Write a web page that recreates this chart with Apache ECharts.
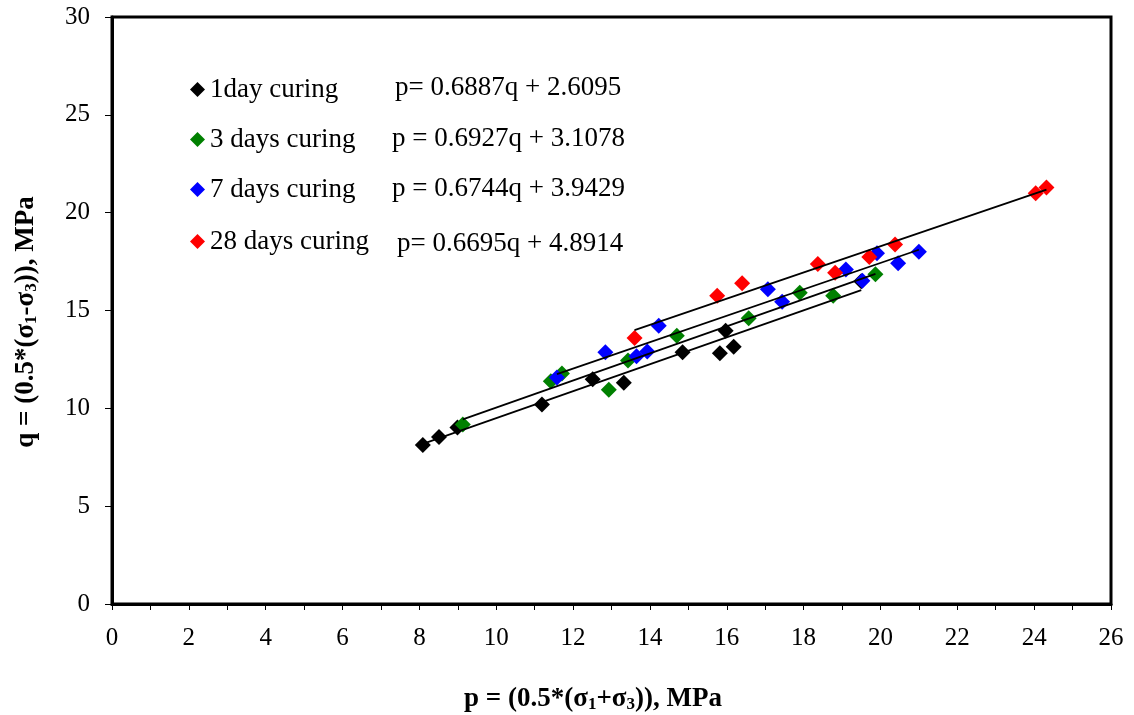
<!DOCTYPE html>
<html>
<head>
<meta charset="utf-8">
<script src="https://cdn.jsdelivr.net/npm/echarts@6/dist/echarts.min.js"></script>
<style>
  html, body { margin: 0; padding: 0; background: #ffffff; }
  #chart { width: 1134px; height: 715px; }
</style>
</head>
<body>
<div id="chart"></div>
<script>
// Curing series: mean stress p and deviator q (MPa)
const seriesNames = ['1day curing', '3 days curing', '7 days curing', '28 days curing'];
const seriesColors = ['#000000', '#008000', '#0000ff', '#ff0000'];

const p1day = [8.09, 8.51, 8.99, 11.19, 12.51, 13.32, 14.85, 15.82, 15.97, 16.18, 19.50];
const q1day = [8.12, 8.53, 9.02, 10.20, 11.49, 11.31, 12.86, 12.81, 13.96, 13.15, 16.50];

const p3days = [9.13, 11.42, 11.71, 12.93, 13.43, 14.70, 16.57, 17.90, 18.77, 19.87];
const q3days = [9.17, 11.38, 11.78, 10.95, 12.44, 13.71, 14.60, 15.91, 15.76, 16.85];

const p7days = [11.58, 12.84, 13.65, 13.93, 14.23, 17.07, 17.44, 19.10, 19.53, 19.91, 20.46, 21.00];
const q7days = [11.58, 12.86, 12.66, 12.91, 14.22, 16.08, 15.45, 17.10, 16.52, 17.93, 17.41, 18.00];

const p28days = [13.60, 15.75, 16.40, 18.37, 18.82, 19.71, 20.38, 24.04, 24.32];
const q28days = [13.60, 15.75, 16.39, 17.38, 16.93, 17.73, 18.37, 20.99, 21.28];

// Linear fits q = slope * p + intercept
const fitSlopes = [0.6887, 0.6927, 0.6744, 0.6695];
const fitIntercepts = [2.6095, 3.1078, 3.9429, 4.8914];
const equationLabels = [
  'p= 0.6887q + 2.6095',
  'p = 0.6927q + 3.1078',
  'p = 0.6744q + 3.9429',
  'p= 0.6695q + 4.8914'
];

const pSets = [p1day, p3days, p7days, p28days];
const qSets = [q1day, q3days, q7days, q28days];

const FONT = "'Liberation Serif', 'Times New Roman', serif";

const chart = echarts.init(document.getElementById('chart'), null, { renderer: 'canvas' });

const scatterSeries = seriesNames.map((name, k) => ({
  name: name,
  type: 'scatter',
  symbol: 'diamond',
  symbolSize: 16,
  itemStyle: { color: seriesColors[k], opacity: 1 },
  z: 2,
  data: pSets[k].map((p, i) => [p, qSets[k][i]])
}));

// Fit lines span the p-range of each data set
const fitSeries = seriesNames.map((name, k) => {
  const pMin = Math.min(...pSets[k]);
  const pMax = Math.max(...pSets[k]);
  return {
    name: name + ' fit',
    type: 'line',
    symbol: 'none',
    silent: true,
    z: 3,
    lineStyle: { color: '#000000', width: 1.8 },
    data: [
      [pMin, fitSlopes[k] * pMin + fitIntercepts[k]],
      [pMax, fitSlopes[k] * pMax + fitIntercepts[k]]
    ]
  };
});

const legendRowsY = [88, 138, 188, 240];
const legends = seriesNames.map((name, k) => ({
  data: [name],
  left: 185,
  top: legendRowsY[k] - 17,
  itemWidth: 15,
  itemHeight: 15,
  icon: 'diamond',
  selectedMode: false,
  textStyle: { fontFamily: FONT, fontSize: 27, color: '#000000', padding: [2, 0, 0, 0] }
}));

const equationX = [395, 392, 392, 397];
const equationY = [87, 138, 188, 243];
const equationTexts = equationLabels.map((t, k) => ({
  type: 'text',
  left: equationX[k],
  top: equationY[k] - 13,
  silent: true,
  style: { text: t, font: '27px ' + FONT, fill: '#000000' }
}));

const titleRich = {
  m: { fontFamily: FONT, fontSize: 27, fontWeight: 'bold', color: '#000', lineHeight: 32, verticalAlign: 'bottom' },
  s: { fontFamily: FONT, fontSize: 17, fontWeight: 'bold', color: '#000', lineHeight: 22, verticalAlign: 'bottom' }
};

const option = {
  backgroundColor: '#ffffff',
  animation: false,
  legend: legends,
  grid: {
    left: 112, right: 23, top: 17, bottom: 111,
    show: true, borderColor: '#000000', borderWidth: 3, backgroundColor: 'transparent'
  },
  xAxis: {
    type: 'value', min: 0, max: 26, interval: 1,
    axisLine: { onZero: false, lineStyle: { color: '#000000', width: 3 } },
    axisTick: { length: 6, lineStyle: { color: '#000000', width: 1 } },
    axisLabel: {
      margin: 22, fontFamily: FONT, fontSize: 25, color: '#000000',
      formatter: v => (v % 2 === 0 ? String(v) : '')
    },
    splitLine: { show: false }
  },
  yAxis: {
    type: 'value', min: 0, max: 30, interval: 5,
    axisLine: { onZero: false, lineStyle: { color: '#000000', width: 3 } },
    axisTick: { length: 7, lineStyle: { color: '#000000', width: 1 } },
    axisLabel: { margin: 22, fontFamily: FONT, fontSize: 25, color: '#000000' },
    splitLine: { show: false }
  },
  graphic: equationTexts.concat([
    {
      type: 'text',
      x: 593, y: 697,
      silent: true,
      style: {
        text: '{m|p = (0.5*(σ}{s|1}{m|+σ}{s|3}{m|)), MPa}',
        rich: titleRich, align: 'center', verticalAlign: 'middle'
      }
    },
    {
      type: 'text',
      x: 24, y: 322,
      rotation: Math.PI / 2,
      silent: true,
      style: {
        text: '{m|q = (0.5*(σ}{s|1}{m|-σ}{s|3}{m|)), MPa}',
        rich: titleRich, align: 'center', verticalAlign: 'middle'
      }
    }
  ]),
  series: scatterSeries.concat(fitSeries)
};

chart.setOption(option);
</script>
</body>
</html>
